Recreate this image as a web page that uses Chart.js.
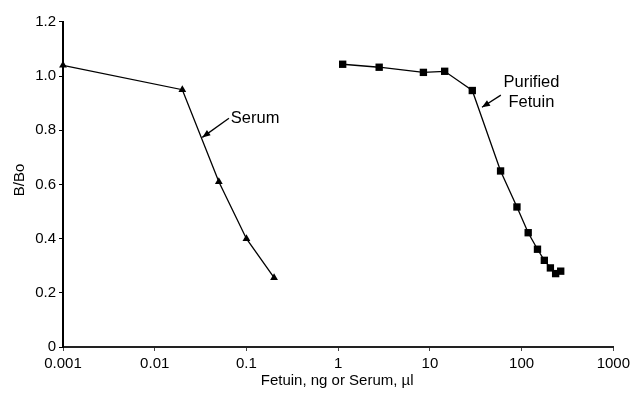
<!DOCTYPE html>
<html>
<head>
<meta charset="utf-8">
<script src="https://cdn.jsdelivr.net/npm/chart.js@4/dist/chart.umd.min.js"></script>
<style>
html,body{margin:0;padding:0;background:#fff;}
#wrap{width:634px;height:396px;position:relative;}
</style>
</head>
<body>
<div id="wrap"><canvas id="c" width="634" height="396"></canvas></div>
<script>
// Data
const serumX = [0.001, 0.02, 0.05, 0.1, 0.2];
const serumY = [1.04, 0.95, 0.61, 0.40, 0.256];
const fetuinX = [1.12, 2.8, 8.5, 14.5, 29, 59, 89, 118, 149, 177, 206, 235, 267];
const fetuinY = [1.044, 1.033, 1.014, 1.018, 0.947, 0.650, 0.517, 0.422, 0.361, 0.320, 0.292, 0.271, 0.280];
const xTickValues = [0.001, 0.01, 0.1, 1, 10, 100, 1000];
const xTickLabels = ['0.001', '0.01', '0.1', '1', '10', '100', '1000'];
const yTickLabels = ['0', '0.2', '0.4', '0.6', '0.8', '1.0', '1.2'];
const xTitle = 'Fetuin, ng or Serum, \u00b5l';
const yTitle = 'B/Bo';
const serumLabel = 'Serum';
const fetuinLabel = ['Purified', 'Fetuin'];

const FONT = '"Liberation Sans", Arial, Helvetica, sans-serif';

function pts(xs, ys){ return xs.map((x,i)=>({x:x, y:ys[i]})); }

const annot = {
  id: 'annot',
  afterDraw(chart){
    const ctx = chart.ctx;
    const xs = chart.scales.x, ys = chart.scales.y;
    const P = (x,y)=>[xs.getPixelForValue(x), ys.getPixelForValue(y)];
    ctx.save();
    ctx.fillStyle = '#000';
    ctx.strokeStyle = '#000';
    // axis titles
    ctx.font = '15px ' + FONT;
    ctx.textAlign = 'center';
    ctx.textBaseline = 'middle';
    ctx.fillText(xTitle, (xs.left + xs.right)/2 - 1, 381);
    ctx.save();
    ctx.translate(20, 180);
    ctx.rotate(-Math.PI/2);
    ctx.fillText(yTitle, 0, 0);
    ctx.restore();
    // annotations
    ctx.font = '16.5px ' + FONT;
    ctx.textAlign = 'left';
    let p = P(0.0676, 0.8445);
    ctx.fillText(serumLabel, p[0], p[1]);
    ctx.textAlign = 'center';
    p = P(128, 0.9775);
    ctx.fillText(fetuinLabel[0], p[0], p[1]);
    p = P(128, 0.904);
    ctx.fillText(fetuinLabel[1], p[0], p[1]);
    function arrow(a, b){
      ctx.lineWidth = 1.3;
      ctx.beginPath(); ctx.moveTo(a[0], a[1]); ctx.lineTo(b[0], b[1]); ctx.stroke();
      const ang = Math.atan2(b[1]-a[1], b[0]-a[0]);
      const L = 8, W = 3.2;
      ctx.beginPath();
      ctx.moveTo(b[0], b[1]);
      ctx.lineTo(b[0] - L*Math.cos(ang) + W*Math.sin(ang), b[1] - L*Math.sin(ang) - W*Math.cos(ang));
      ctx.lineTo(b[0] - L*Math.cos(ang) - W*Math.sin(ang), b[1] - L*Math.sin(ang) + W*Math.cos(ang));
      ctx.closePath(); ctx.fill();
    }
    arrow(P(0.0645, 0.8445), P(0.033, 0.774));
    arrow(P(59.4, 0.93), P(37, 0.885));
    ctx.restore();
  }
};

new Chart(document.getElementById('c'), {
  type: 'scatter',
  data: {
    datasets: [
      { label: 'Serum', data: pts(serumX, serumY), showLine: true, borderColor: '#000', backgroundColor: '#000',
        borderWidth: 1.3, pointStyle: 'triangle', pointRadius: 4.5, pointBorderWidth: 0, tension: 0, clip: false },
      { label: 'Purified Fetuin', data: pts(fetuinX, fetuinY), showLine: true, borderColor: '#000', backgroundColor: '#000',
        borderWidth: 1.3, pointStyle: 'rect', pointRadius: 5.2, pointBorderWidth: 0, tension: 0, clip: false }
    ]
  },
  options: {
    responsive: false,
    animation: false,
    layout: { padding: { top: 22, right: 18, left: 0, bottom: 0 } },
    plugins: { legend: { display: false }, tooltip: { enabled: false } },
    scales: {
      x: {
        type: 'logarithmic',
        min: 0.001, max: 1000,
        afterBuildTicks(s){ s.ticks = xTickValues.map(v=>({value:v})); },
        afterFit(s){ s.height = 49; },
        ticks: {
          autoSkip: false, maxRotation: 0, padding: 4,
          color: '#000', font: { family: FONT, size: 15 },
          callback(v){ const i = xTickValues.indexOf(v); return i >= 0 ? xTickLabels[i] : ''; }
        },
        grid: { display: true, drawOnChartArea: false, drawTicks: true, tickLength: 4, color: '#444', lineWidth: 1 },
        border: { display: true, width: 2, color: '#222' }
      },
      y: {
        type: 'linear',
        min: 0, max: 1.2,
        afterBuildTicks(s){ s.ticks = yTickLabels.map((t,i)=>({value: i*0.2})); },
        afterFit(s){ s.width = 63; },
        ticks: {
          autoSkip: false, padding: 3,
          color: '#000', font: { family: FONT, size: 15 },
          callback(v, i){ return yTickLabels[i]; }
        },
        grid: { display: true, drawOnChartArea: false, drawTicks: true, tickLength: 4, color: '#000', lineWidth: 1 },
        border: { display: true, width: 2, color: '#000' }
      }
    }
  },
  plugins: [annot]
});
</script>
</body>
</html>
